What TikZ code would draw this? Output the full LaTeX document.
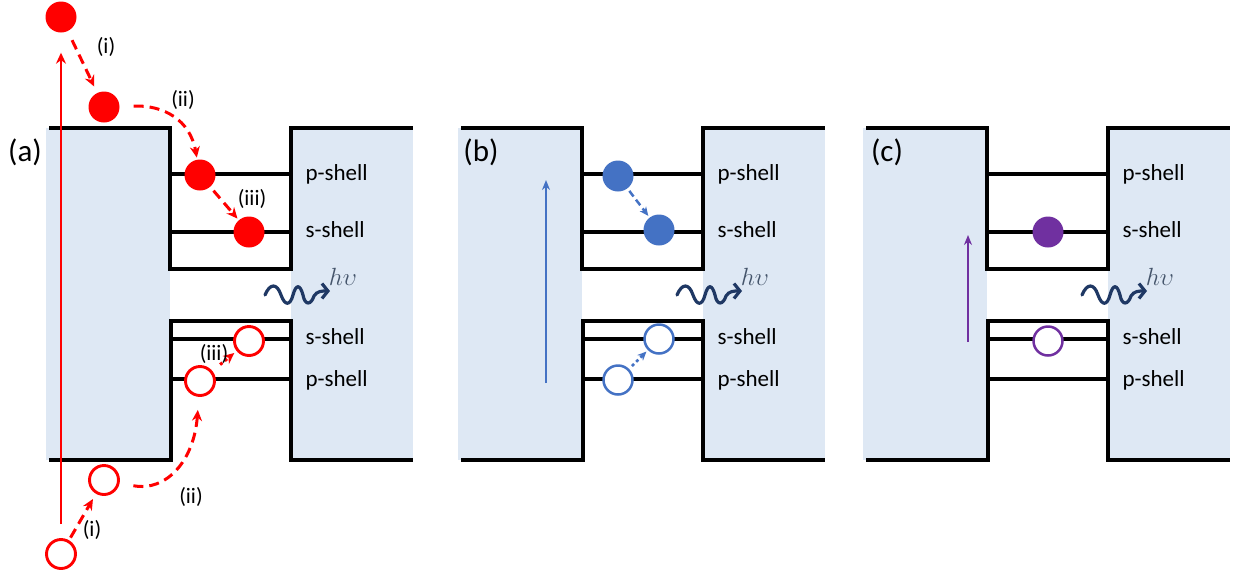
\documentclass[tikz,border=0pt]{standalone}
\usepackage{fontspec}
\setmainfont{Carlito}
\usepackage{tikz}
\usetikzlibrary{arrows.meta,calc}
\definecolor{barrier}{HTML}{DEE8F4}
\definecolor{elred}{HTML}{FF0000}
\definecolor{elblue}{HTML}{4472C4}
\definecolor{elpurple}{HTML}{7030A0}
\definecolor{photon}{HTML}{1F3864}
\definecolor{hnu}{HTML}{44546A}

\begin{document}
\begin{tikzpicture}[x=1pt,y=-1pt,>={Stealth[length=11pt,width=10pt]},
  edge/.style={line width=3.2pt},
  el/.style={circle,inner sep=0pt,minimum size=31pt},
  ho/.style={circle,inner sep=0pt,minimum size=29pt,fill=white,line width=2.9pt},
  shell/.style={anchor=west,font=\fontsize{23}{27}\selectfont},
  tag/.style={font=\fontsize{22}{26}\selectfont},
  panel/.style={font=\fontsize{31}{36}\selectfont},
  jump/.style={->,line width=3pt,dash pattern=on 10pt off 6pt},
  pump/.style={->,line width=2.8pt},
  wave/.style={photon,line width=3.2pt,line cap=round,-{Straight Barb[length=6pt,width=15pt,line width=3.2pt]}}]
\useasboundingbox (0,0) rectangle (1235,574);
% three panels: barriers, dot levels, photon
\foreach \dx/\lab in {0/a,412/b,817/c}{
  \fill[barrier] (\dx+46,128) rectangle (\dx+170,460);
  \fill[barrier] (\dx+291,128) rectangle (\dx+413,460);
  \draw[edge] (\dx+170,174)--(\dx+291,174);\draw[edge] (\dx+170,232)--(\dx+291,232);
  \draw[edge] (\dx+171,339)--(\dx+291,339);\draw[edge] (\dx+171,379)--(\dx+291,379);
  \draw[edge] (\dx+49,128)--(\dx+170,128)--(\dx+170,269)--(\dx+291,269)--(\dx+291,128)--(\dx+413,128);
  \draw[edge] (\dx+49,460)--(\dx+171,460)--(\dx+171,321)--(\dx+291,321)--(\dx+291,460)--(\dx+413,460);
  \node[shell] (pc\lab) at (\dx+302,174) {p-shell};
  \node[shell] (sc\lab) at (\dx+302,230) {s-shell};
  \node[shell] (sv\lab) at (\dx+302,337) {s-shell};
  \node[shell] (pv\lab) at (\dx+302,380) {p-shell};
  \draw[wave] (\dx+265,295) .. controls (\dx+270,283) and (\dx+277,283) .. (\dx+281,295)
    .. controls (\dx+285,306) and (\dx+290,306) .. (\dx+293,295)
    .. controls (\dx+296,284) and (\dx+300,284) .. (\dx+303,295)
    .. controls (\dx+305,306) and (\dx+311,305) .. (\dx+314,296)
    .. controls (\dx+317,291) and (\dx+322,291) .. (\dx+330,291);
  \node[hnu,font=\fontsize{23}{27}\selectfont] (hv\lab) at (\dx+343,277) {$h\upsilon$};
}
\node[panel] (pa) at (25,152) {(a)};
\node[panel] (pb) at (481,152) {(b)};
\node[panel] (pcc) at (887,152) {(c)};
% (a) electrons and holes
\node[el,fill=elred] (eA1) at (61,17) {};
\node[el,fill=elred] (eA2) at (104,107) {};
\node[el,fill=elred] (eA3) at (200,175) {};
\node[el,fill=elred] (eA4) at (249,232) {};
\node[ho,draw=elred] (hA1) at (61,554) {};
\node[ho,draw=elred] (hA2) at (104,480) {};
\node[ho,draw=elred] (hA3) at (200,381) {};
\node[ho,draw=elred] (hA4) at (249,341) {};
\draw[pump,elred,shorten <=14pt,shorten >=20pt] (hA1)--(eA1);
\draw[jump,elred,shorten <=10pt,shorten >=7pt] (eA1)--(eA2);
\node[tag] (iA) at (106,47) {(i)};
\draw[jump,elred,shorten <=14pt,shorten >=2pt] (eA2) .. controls +(60,-2) and +(-10,-55) .. (eA3);
\node[tag] (iiA) at (183,100) {(ii)};
\draw[jump,elred,shorten <=5pt,shorten >=2pt] (eA3)--(eA4);
\node[tag] (iiiA) at (252,199) {(iii)};
\draw[jump,elred,shorten <=3pt,shorten >=6pt] (hA1)--(hA2);
\node[tag] (iB) at (92,530) {(i)};
\draw[jump,elred,shorten <=14pt,shorten >=13pt] (hA2) .. controls +(62,12) and +(-6,80) .. (hA3);
\node[tag] (iiB) at (191,497) {(ii)};
\draw[->,elred,line width=3pt,dash pattern=on 3pt off 3pt,shorten <=10pt,shorten >=3pt] (hA3)--(hA4);
\node[tag] (iiiB) at (214,354) {(iii)};
% (b)
\node[el,fill=elblue] (eB1) at (618,176) {};
\node[el,fill=elblue] (eB2) at (659,230) {};
\node[ho,draw=elblue,line width=2.5pt] (hB1) at (618,380) {};
\node[ho,draw=elblue,line width=2.5pt] (hB2) at (659,339) {};
\coordinate (bLo) at (546,383); \coordinate (bHi) at (546,180);
\draw[pump,elblue,-{Stealth[length=10pt,width=8pt]}] (bLo)--(bHi);
\draw[->,elblue,line width=2.5pt,dash pattern=on 7pt off 4pt,shorten <=3pt,shorten >=2pt,-{Stealth[length=9pt,width=8pt]}] (eB1)--(eB2);
\draw[->,elblue,line width=2.5pt,dash pattern=on 3pt off 3pt,shorten <=4pt,shorten >=2pt,-{Stealth[length=9pt,width=8pt]}] (hB1)--(hB2);
% (c)
\node[el,fill=elpurple] (eC) at (1048,232) {};
\node[ho,draw=elpurple,line width=2.5pt] (hC) at (1048,341) {};
\coordinate (cLo) at (968,342); \coordinate (cHi) at (968,235);
\draw[pump,elpurple,-{Stealth[length=10pt,width=8pt]}] (cLo)--(cHi);
\end{tikzpicture}
\end{document}
